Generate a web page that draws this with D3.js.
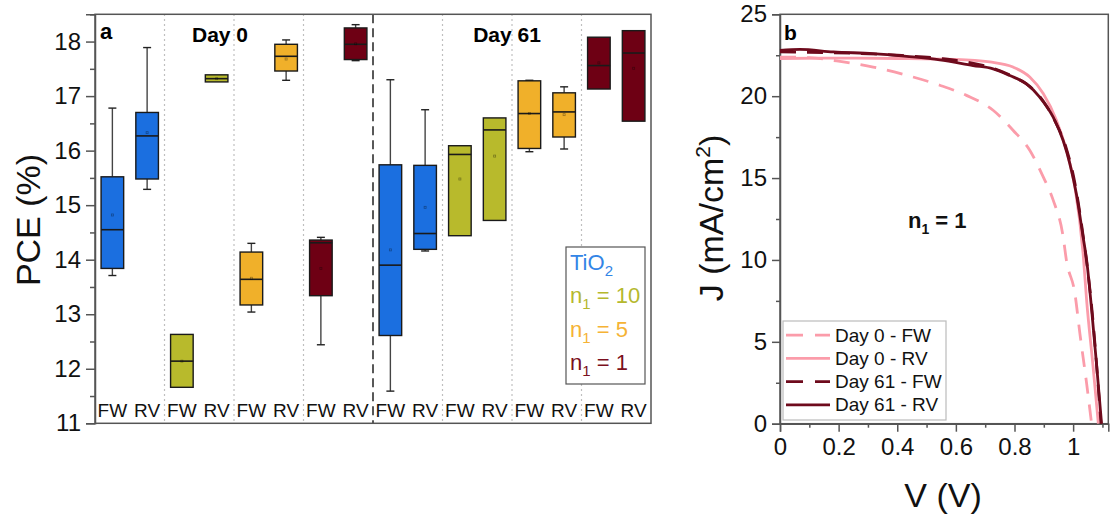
<!DOCTYPE html>
<html>
<head>
  <title>PCE boxes and J-V curves</title>
  <style type="text/css">
    body { margin: 0; background: #fff; }
    svg { display: block; font-family: Arial, 'Liberation Sans', sans-serif; }
  </style>
</head>
<body>
<svg id='vis' width='1110' height='516'></svg>

<script src="https://cdnjs.cloudflare.com/ajax/libs/d3/7.8.5/d3.min.js"></script>
<script type="text/javascript">

  /* ---- panel a data: one entry per box, Day 0 then Day 61 ---- */
  var days = ['Day 0', 'Day 61'];
  var materials = ['TiO2', 'n10', 'n5', 'n1'];
  var scans = ['FW', 'RV'];
  var boxMin  = [13.71, 15.29, 11.66, 17.26, 13.04, 17.29, 12.44, 17.65,
                 11.59, 14.16, 14.44, 14.72, 15.98, 16.03, 17.13, 16.54];
  var boxQ1   = [13.84, 15.48, 11.66, 17.26, 13.17, 17.46, 13.34, 17.67,
                 12.61, 14.19, 14.44, 14.72, 16.04, 16.25, 17.13, 16.54];
  var boxMed  = [14.55, 16.27, 12.14, 17.32, 13.64, 17.73, 14.31, 17.95,
                 13.90, 14.48, 15.93, 16.38, 16.68, 16.71, 17.56, 17.79];
  var boxQ3   = [15.52, 16.70, 12.63, 17.39, 14.14, 17.95, 14.36, 18.25,
                 15.74, 15.73, 16.09, 16.60, 17.28, 17.06, 18.08, 18.20];
  var boxMax  = [16.78, 17.89, 12.63, 17.39, 14.30, 18.03, 14.41, 18.31,
                 17.30, 16.75, 16.09, 16.60, 17.29, 17.17, 18.08, 18.20];
  var boxMean = [14.82, 16.33, 12.14, 17.32, 13.66, 17.68, 13.84, 17.96,
                 14.18, 14.96, 15.48, 15.90, 16.68, 16.66, 17.61, 17.51];
  var pceTicks = [11, 12, 13, 14, 15, 16, 17, 18];

  /* ---- panel b data: J-V curves ---- */
  var v_d0_fw = [0, 0.1, 0.216, 0.318, 0.432, 0.545, 0.636, 0.727, 0.795, 0.852, 0.898, 0.932, 0.966, 0.977, 1.006, 1.023, 1.046, 1.063];
  var j_d0_fw = [22.39, 22.35, 22.09, 21.78, 21.28, 20.67, 20.05, 19.14, 17.92, 16.70, 15.07, 13.65, 11.41, 9.99, 7.96, 5.52, 2.46, 0];
  var v_d0_rv = [0, 0.2, 0.4, 0.6, 0.716, 0.795, 0.852, 0.898, 0.943, 0.977, 1.006, 1.034, 1.046, 1.068, 1.086];
  var j_d0_rv = [22.3, 22.32, 22.3, 22.25, 22.09, 21.78, 21.17, 20.16, 18.53, 16.70, 14.46, 10.40, 7.55, 3.48, 0];
  var v_d61_fw = [0, 0.1, 0.25, 0.4, 0.55, 0.636, 0.727, 0.795, 0.852, 0.898, 0.943, 0.977, 1.006, 1.034, 1.063, 1.095];
  var j_d61_fw = [22.70, 22.68, 22.62, 22.5, 22.3, 22.09, 21.7, 21.2, 20.6, 19.7, 18.3, 16.8, 14.7, 11.5, 7.2, 0];
  var v_d61_rv = [0, 0.068, 0.182, 0.318, 0.432, 0.545, 0.659, 0.727, 0.784, 0.841, 0.886, 0.932, 0.966, 0.989, 1.011, 1.034, 1.046, 1.063, 1.08, 1.097];
  var j_d61_rv = [22.80, 22.86, 22.70, 22.60, 22.43, 22.22, 21.87, 21.67, 21.26, 20.75, 19.94, 18.72, 17.29, 15.87, 14.04, 11.4, 10.0, 7.0, 3.6, 0];
  var jvLabels = ['Day 0 - FW', 'Day 0 - RV', 'Day 61 - FW', 'Day 61 - RV'];
  var voltTicks = [0, 0.2, 0.4, 0.6, 0.8, 1];
  var jTicks = [0, 5, 10, 15, 20, 25];

  var boxColors = { TiO2: '#1b6fe0', n10: '#b8ba2c', n5: '#f0b02a', n1: '#6e0014' };
  var legColors = { TiO2: '#3385e6', n10: '#b5b82e', n5: '#f5b335', n1: '#7b1020' };
  var pink = '#fb9caa', maroon = '#6e0a1c';

  var svg = d3.select('#vis');

  /* ================= panel a ================= */
  var A = { left: 95, right: 651, top: 14.3, bottom: 423.3 };
  var boxes = boxMin.map(function(d, i) {
    return {
      i: i, day: days[Math.floor(i / 8)], mat: materials[Math.floor(i / 2) % 4], scan: scans[i % 2],
      min: boxMin[i], q1: boxQ1[i], med: boxMed[i], q3: boxQ3[i], max: boxMax[i], mean: boxMean[i]
    };
  });

  var xA = d3.scaleBand()
    .domain(d3.range(boxes.length))
    .range([A.left, A.right])
    .paddingInner(0.35)
    .paddingOuter(0.175);
  var yA = d3.scaleLinear().domain([11, 18.5]).range([A.bottom, A.top]);
  var step = xA.step();

  var ga = svg.append('g');

  // separators between material groups
  [2, 4, 6, 10, 12, 14].forEach(function(k) {
    ga.append('line')
      .attr('x1', A.left + k * step).attr('x2', A.left + k * step)
      .attr('y1', A.top).attr('y2', A.bottom)
      .attr('stroke', '#aaa').attr('stroke-width', 1.2)
      .attr('stroke-dasharray', '1.5,3.5');
  });
  ga.append('line')
    .attr('x1', A.left + 8 * step).attr('x2', A.left + 8 * step)
    .attr('y1', A.top).attr('y2', A.bottom)
    .attr('stroke', '#222').attr('stroke-width', 1.5)
    .attr('stroke-dasharray', '9,5');

  var bg = ga.selectAll('g.box').data(boxes).enter().append('g').attr('class', 'box');
  var cx = function(d) { return xA(d.i) + xA.bandwidth() / 2; };

  bg.filter(function(d) { return d.max > d.q3; }).append('line')
    .attr('x1', cx).attr('x2', cx)
    .attr('y1', function(d) { return yA(d.max); }).attr('y2', function(d) { return yA(d.q3); })
    .attr('stroke', '#444').attr('stroke-width', 1.4);
  bg.filter(function(d) { return d.min < d.q1; }).append('line')
    .attr('x1', cx).attr('x2', cx)
    .attr('y1', function(d) { return yA(d.min); }).attr('y2', function(d) { return yA(d.q1); })
    .attr('stroke', '#444').attr('stroke-width', 1.4);
  bg.filter(function(d) { return d.max > d.q3; }).append('line')
    .attr('x1', function(d) { return cx(d) - 4; }).attr('x2', function(d) { return cx(d) + 4; })
    .attr('y1', function(d) { return yA(d.max); }).attr('y2', function(d) { return yA(d.max); })
    .attr('stroke', '#222').attr('stroke-width', 1.4);
  bg.filter(function(d) { return d.min < d.q1; }).append('line')
    .attr('x1', function(d) { return cx(d) - 4; }).attr('x2', function(d) { return cx(d) + 4; })
    .attr('y1', function(d) { return yA(d.min); }).attr('y2', function(d) { return yA(d.min); })
    .attr('stroke', '#222').attr('stroke-width', 1.4);

  bg.append('rect')
    .attr('x', function(d) { return xA(d.i); })
    .attr('width', xA.bandwidth())
    .attr('y', function(d) { return yA(d.q3); })
    .attr('height', function(d) { return yA(d.q1) - yA(d.q3); })
    .attr('fill', function(d) { return boxColors[d.mat]; })
    .attr('stroke', '#1a1a1a').attr('stroke-width', 1.4);
  bg.append('line')
    .attr('x1', function(d) { return xA(d.i); }).attr('x2', function(d) { return xA(d.i) + xA.bandwidth(); })
    .attr('y1', function(d) { return yA(d.med); }).attr('y2', function(d) { return yA(d.med); })
    .attr('stroke', '#1a1a1a').attr('stroke-width', 1.6);
  bg.append('rect')
    .attr('x', function(d) { return cx(d) - 1; }).attr('y', function(d) { return yA(d.mean) - 1; })
    .attr('width', 2).attr('height', 2)
    .attr('fill', 'none').attr('stroke', 'rgba(0,0,0,0.35)').attr('stroke-width', 0.8);

  // scan labels
  ga.selectAll('text.scan').data(boxes).enter().append('text')
    .attr('x', cx).attr('y', 417)
    .attr('text-anchor', 'middle').attr('font-size', 19).attr('fill', '#111')
    .text(function(d) { return d.scan; });

  // frame + y axis
  ga.append('rect')
    .attr('x', A.left).attr('y', A.top)
    .attr('width', A.right - A.left).attr('height', A.bottom - A.top)
    .attr('fill', 'none').attr('stroke', '#555').attr('stroke-width', 1.5);
  var yAxisA = ga.append('g').attr('transform', 'translate(' + A.left + ',0)')
    .call(d3.axisLeft(yA).tickValues(pceTicks).tickSize(9).tickPadding(5).tickFormat(d3.format('d')));
  yAxisA.select('.domain').attr('stroke', '#555').attr('stroke-width', 1.5);
  yAxisA.selectAll('.tick line').attr('stroke', '#555').attr('stroke-width', 1.5);
  yAxisA.selectAll('.tick text').attr('font-size', 24).attr('fill', '#111')
    .attr('font-family', "Arial, 'Liberation Sans', sans-serif");
  ga.append('g').attr('transform', 'translate(' + A.left + ',0)')
    .call(d3.axisLeft(yA).tickValues(d3.range(11.5, 18.6, 1)).tickSize(5).tickFormat(''))
    .call(function(g) { g.select('.domain').remove(); g.selectAll('line').attr('stroke', '#555').attr('stroke-width', 1.5); });

  ga.append('text')
    .attr('transform', 'translate(40,220) rotate(-90)')
    .attr('text-anchor', 'middle').attr('font-size', 34).attr('fill', '#111')
    .text('PCE (%)');

  ga.append('text').attr('x', 100).attr('y', 39)
    .attr('font-size', 22).attr('font-weight', 'bold').text('a');
  ga.append('text').attr('x', 220).attr('y', 41.5).attr('text-anchor', 'middle')
    .attr('font-size', 21).attr('font-weight', 'bold').text(days[0]);
  ga.append('text').attr('x', 507).attr('y', 41.5).attr('text-anchor', 'middle')
    .attr('font-size', 21).attr('font-weight', 'bold').text(days[1]);

  // material legend
  var legA = ga.append('g');
  legA.append('rect').attr('x', 566).attr('y', 247).attr('width', 79).attr('height', 137)
    .attr('fill', '#fff').attr('stroke', '#555').attr('stroke-width', 1.2);
  var legEntries = [
    { mat: 'TiO2', main: 'TiO', sub: '2', tail: '' },
    { mat: 'n10', main: 'n', sub: '1', tail: ' = 10' },
    { mat: 'n5', main: 'n', sub: '1', tail: ' = 5' },
    { mat: 'n1', main: 'n', sub: '1', tail: ' = 1' }
  ];
  legEntries.forEach(function(e, k) {
    var t = legA.append('text').attr('x', 570).attr('y', 270 + k * 33.4)
      .attr('font-size', 22).attr('fill', legColors[e.mat]);
    t.append('tspan').text(e.main);
    t.append('tspan').attr('font-size', 15).attr('dy', 6).text(e.sub);
    if (e.tail) t.append('tspan').attr('dy', -6).text(e.tail);
  });

  /* ================= panel b ================= */
  var B = { left: 780, right: 1108.3, top: 14.3, bottom: 423.7 };
  var xB = d3.scaleLinear().domain([0, 1.12]).range([B.left, B.right]);
  var yB = d3.scaleLinear().domain([0, 25]).range([B.bottom, B.top]);
  var gb = svg.append('g');

  gb.append('rect')
    .attr('x', B.left).attr('y', B.top)
    .attr('width', B.right - B.left).attr('height', B.bottom - B.top)
    .attr('fill', 'none').attr('stroke', '#555').attr('stroke-width', 1.5);

  var xAxisB = gb.append('g').attr('transform', 'translate(0,' + B.bottom + ')')
    .call(d3.axisBottom(xB).tickValues(voltTicks).tickSize(8).tickPadding(6).tickFormat(function(d) { return d3.format('')(d); }));
  var yAxisB = gb.append('g').attr('transform', 'translate(' + B.left + ',0)')
    .call(d3.axisLeft(yB).tickValues(jTicks).tickSize(8).tickPadding(5));
  [xAxisB, yAxisB].forEach(function(ax) {
    ax.select('.domain').attr('stroke', '#555').attr('stroke-width', 1.5);
    ax.selectAll('.tick line').attr('stroke', '#555').attr('stroke-width', 1.5);
    ax.selectAll('.tick text').attr('font-size', 24).attr('fill', '#111')
      .attr('font-family', "Arial, 'Liberation Sans', sans-serif");
  });
  gb.append('g').attr('transform', 'translate(0,' + B.bottom + ')')
    .call(d3.axisBottom(xB).tickValues([0.1, 0.3, 0.5, 0.7, 0.9, 1.1]).tickSize(4).tickFormat(''))
    .call(function(g) { g.select('.domain').remove(); g.selectAll('line').attr('stroke', '#555').attr('stroke-width', 1.5); });
  gb.append('g').attr('transform', 'translate(' + B.left + ',0)')
    .call(d3.axisLeft(yB).tickValues([2.5, 7.5, 12.5, 17.5, 22.5]).tickSize(4).tickFormat(''))
    .call(function(g) { g.select('.domain').remove(); g.selectAll('line').attr('stroke', '#555').attr('stroke-width', 1.5); });

  var curves = [
    { v: v_d0_fw, j: j_d0_fw, color: pink, dash: '16,11' },
    { v: v_d0_rv, j: j_d0_rv, color: pink, dash: null },
    { v: v_d61_fw, j: j_d61_fw, color: maroon, dash: '16,11' },
    { v: v_d61_rv, j: j_d61_rv, color: maroon, dash: null }
  ];
  var line = d3.line()
    .x(function(p) { return xB(p[0]); })
    .y(function(p) { return yB(p[1]); })
    .curve(d3.curveMonotoneX);

  curves.forEach(function(c) {
    gb.append('path')
      .datum(d3.zip(c.v, c.j))
      .attr('d', line)
      .attr('fill', 'none')
      .attr('stroke', c.color)
      .attr('stroke-width', 2.8)
      .attr('stroke-dasharray', c.dash);
  });

  gb.append('text').attr('x', 784).attr('y', 39.5)
    .attr('font-size', 21).attr('font-weight', 'bold').text('b');

  var n1 = gb.append('text').attr('x', 908).attr('y', 228)
    .attr('font-size', 22).attr('font-weight', 'bold').attr('fill', '#111');
  n1.append('tspan').text('n');
  n1.append('tspan').attr('font-size', 14).attr('dy', 6).text('1');
  n1.append('tspan').attr('dy', -6).text(' = 1');

  // curve legend
  var legB = gb.append('g');
  legB.append('rect').attr('x', 783).attr('y', 321).attr('width', 163).attr('height', 99)
    .attr('fill', '#fff').attr('stroke', '#bbb').attr('stroke-width', 1.2);
  curves.forEach(function(c, k) {
    var yy = 341.7 + k * 23.2;
    legB.append('line')
      .attr('x1', 786).attr('x2', 830)
      .attr('y1', yy - 6.5).attr('y2', yy - 6.5)
      .attr('stroke', c.color).attr('stroke-width', 2.8)
      .attr('stroke-dasharray', c.dash ? '17,12' : null);
    legB.append('text').attr('x', 835).attr('y', yy)
      .attr('font-size', 19).attr('fill', '#111').text(jvLabels[k]);
  });

  gb.append('text')
    .attr('transform', 'translate(723,218) rotate(-90)')
    .attr('text-anchor', 'middle').attr('font-size', 34).attr('fill', '#111')
    .call(function(t) {
      t.append('tspan').text('J (mA/cm');
      t.append('tspan').attr('font-size', 21).attr('dy', -13).text('2');
      t.append('tspan').attr('dy', 13).text(')');
    });

  gb.append('text').attr('x', 943).attr('y', 507)
    .attr('text-anchor', 'middle').attr('font-size', 34).attr('fill', '#111')
    .text('V (V)');

</script>
</body>
</html>
